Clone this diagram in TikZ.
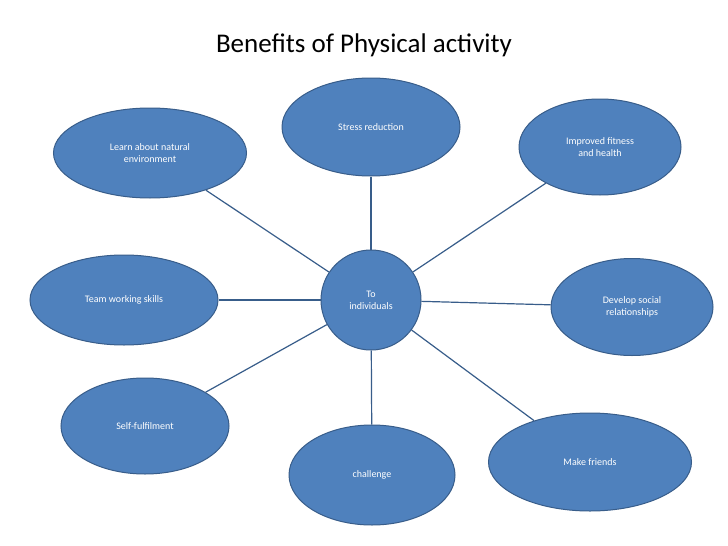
\documentclass[tikz,border=0pt]{standalone}
\usepackage{fontspec}
\setmainfont{Carlito}
\usetikzlibrary{shapes.geometric}
\definecolor{bfill}{HTML}{4F81BD}
\definecolor{bline}{HTML}{385D8A}
\tikzset{x=1pt,y=-1pt,
 bub/.style={ellipse,draw=bline,fill=bfill,line width=1pt,text=white,align=center,font=\fontsize{10}{12}\selectfont,inner sep=0pt},
 conn/.style={draw=bline,line width=1.2pt}}
\begin{document}
\begin{tikzpicture}
\useasboundingbox[fill=white] (0,0) rectangle (728,546);
\node[font=\fontsize{27}{32}\selectfont] (title) at (364,45) {Benefits of Physical activity};
\node[bub,minimum width=100,minimum height=100] (c) at (371,300) {To\\individuals};
\node[bub,minimum width=178,minimum height=98] (sr) at (371,127) {Stress reduction};
\node[bub,minimum width=193,minimum height=90] (ln) at (150,153) {Learn about natural\\environment};
\node[bub,minimum width=162,minimum height=96] (im) at (600,147) {Improved fitness\\and health};
\node[bub,minimum width=188,minimum height=90] (tw) at (124,300) {Team working skills};
\node[bub,minimum width=162,minimum height=97] (ds) at (632,307) {Develop social\\relationships};
\node[bub,minimum width=168,minimum height=96] (sf) at (145,426) {Self-fulfilment};
\node[bub,minimum width=166,minimum height=100] (ch) at (372,475) {challenge};
\node[bub,minimum width=203,minimum height=98] (mf) at (590,462) {Make friends};
\foreach \n in {sr,ln,im,tw,ds,sf,ch,mf} \draw[conn] (c) -- (\n);
\end{tikzpicture}
\end{document}
